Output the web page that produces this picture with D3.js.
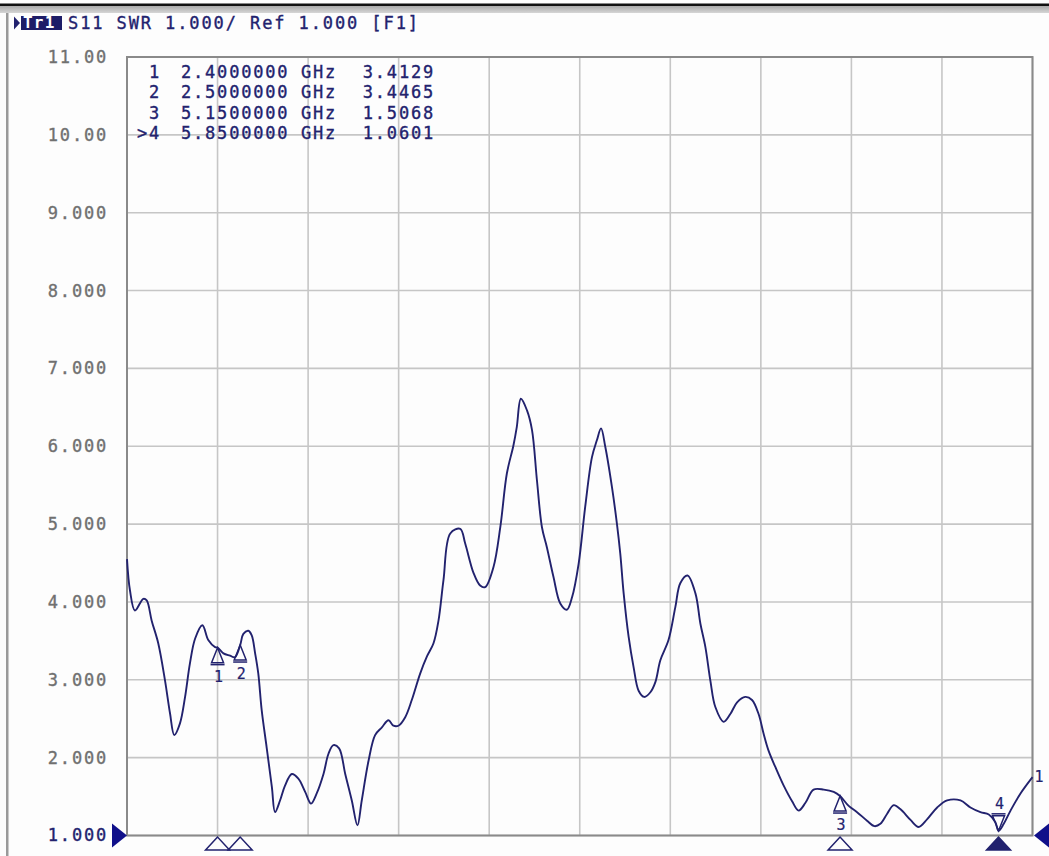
<!DOCTYPE html>
<html>
<head>
<meta charset="utf-8">
<script src="https://cdn.jsdelivr.net/npm/d3@7"></script>
<style>
	html, body { margin: 0; padding: 0; background: #fdfdfd; }
	svg { display: block; }
	text { font-family: "DejaVu Sans Mono", monospace; }
</style>
</head>
<body>
<svg id="chart" width="1049" height="856"></svg>
<script>

// Trace: S11 SWR, frequency in GHz.
let freq = [
	2.000, 2.013, 2.035, 2.072, 2.087, 2.109, 2.138, 2.168, 2.190, 2.209,
	2.234, 2.256, 2.278, 2.301, 2.333, 2.359, 2.389, 2.400, 2.426, 2.455,
	2.477, 2.500, 2.514, 2.536, 2.551, 2.566, 2.580, 2.595, 2.617, 2.640,
	2.654, 2.676, 2.698, 2.728, 2.757, 2.787, 2.813, 2.838, 2.868, 2.890,
	2.912, 2.937, 2.964, 2.993, 3.018, 3.037, 3.067, 3.096, 3.126, 3.155,
	3.177, 3.199, 3.229, 3.258, 3.295, 3.325, 3.354, 3.376, 3.398, 3.428,
	3.472, 3.494, 3.531, 3.560, 3.582, 3.619, 3.649, 3.678, 3.707, 3.722,
	3.740, 3.767, 3.789, 3.811, 3.833, 3.855, 3.884, 3.914, 3.943, 3.966,
	3.995, 4.024, 4.054, 4.076, 4.094, 4.113, 4.142, 4.164, 4.179, 4.194,
	4.216, 4.238, 4.260, 4.285, 4.312, 4.334, 4.356, 4.392, 4.422, 4.444,
	4.476, 4.511, 4.533, 4.555, 4.577, 4.599, 4.636, 4.665, 4.695, 4.731,
	4.761, 4.790, 4.812, 4.834, 4.864, 4.901, 4.938, 4.967, 4.997, 5.033,
	5.078, 5.122, 5.150, 5.188, 5.225, 5.269, 5.302, 5.328, 5.358, 5.387,
	5.416, 5.461, 5.497, 5.535, 5.579, 5.623, 5.682, 5.726, 5.770, 5.807,
	5.836, 5.850, 5.873, 5.903, 5.947, 6.000
];

let swr = [
	4.55, 4.15, 3.89, 4.04, 4.02, 3.76, 3.47, 2.99, 2.57, 2.29,
	2.44, 2.77, 3.21, 3.53, 3.70, 3.51, 3.42, 3.413, 3.34, 3.31,
	3.29, 3.446, 3.59, 3.63, 3.57, 3.34, 3.08, 2.61, 2.13, 1.62,
	1.30, 1.45, 1.64, 1.79, 1.73, 1.56, 1.41, 1.54, 1.79, 2.05,
	2.16, 2.12, 1.79, 1.45, 1.13, 1.45, 1.96, 2.29, 2.39, 2.48,
	2.41, 2.41, 2.52, 2.74, 3.08, 3.30, 3.47, 3.76, 4.28, 4.88,
	4.94, 4.75, 4.37, 4.21, 4.19, 4.45, 4.96, 5.65, 6.01, 6.25,
	6.61, 6.46, 6.21, 5.56, 4.96, 4.70, 4.32, 3.98, 3.90, 4.06,
	4.49, 5.22, 5.86, 6.08, 6.23, 5.99, 5.48, 5.01, 4.62, 4.11,
	3.55, 3.16, 2.86, 2.78, 2.84, 2.97, 3.25, 3.51, 3.93, 4.24,
	4.34, 4.11, 3.72, 3.42, 2.99, 2.65, 2.46, 2.56, 2.71, 2.78,
	2.74, 2.56, 2.31, 2.09, 1.88, 1.64, 1.44, 1.32, 1.42, 1.59,
	1.59, 1.56, 1.507, 1.38, 1.30, 1.19, 1.12, 1.15, 1.28, 1.39,
	1.34, 1.20, 1.11, 1.21, 1.36, 1.45, 1.45, 1.36, 1.30, 1.27,
	1.17, 1.060, 1.15, 1.32, 1.54, 1.75
];

// Markers: number, frequency (GHz), value.
let markerNames = ["1", "2", "3", "4"];
let markerFreq = [2.4, 2.5, 5.15, 5.85];
let markerValue = [3.4129, 3.4465, 1.5068, 1.0601];
let markerFreqText = ["2.4000000", "2.5000000", "5.1500000", "5.8500000"];
let markerValueText = ["3.4129", "3.4465", "1.5068", "1.0601"];
let activeMarker = 3;

// Axis ticks.
let yTicks = [1, 2, 3, 4, 5, 6, 7, 8, 9, 10, 11];
let yLabels = ["1.000", "2.000", "3.000", "4.000", "5.000", "6.000", "7.000", "8.000", "9.000", "10.00", "11.00"];
let xTicks = [2.0, 2.4, 2.8, 3.2, 3.6, 4.0, 4.4, 4.8, 5.2, 5.6, 6.0];

let headerText = "S11 SWR 1.000/ Ref 1.000 [F1]";


let navy = "#22226e";
let svg = d3.select("#chart");

let plot = {left: 127, right: 1032.5, top: 57, bottom: 835.5};

let x = d3.scaleLinear().domain([2, 6]).range([plot.left, plot.right]);
let y = d3.scaleLinear().domain([1, 11]).range([plot.bottom, plot.top]);

// The instrument font is a wide fixed pitch one: thicken the glyphs a little.
function screenText(sel, colour){
	sel.attr("font-family", "'DejaVu Sans Mono', monospace")
	   .attr("font-size", 17)
	   .attr("letter-spacing", 1.8)
	   .attr("fill", colour)
	   .attr("stroke", colour)
	   .attr("stroke-width", 0.35);
	return sel;
} // screenText


// Window frame: black top rule, gray band and the left edge.
svg.append("rect").attr("x", 0).attr("y", 3.5).attr("width", 1049).attr("height", 2.5).attr("fill", "#111");
let grad = svg.append("defs").append("linearGradient")
	.attr("id", "band").attr("x1", 0).attr("x2", 0).attr("y1", 0).attr("y2", 1);
grad.append("stop").attr("offset", "0%").attr("stop-color", "#a9a9a9");
grad.append("stop").attr("offset", "100%").attr("stop-color", "#d6d6d6");
svg.append("rect").attr("x", 0).attr("y", 6).attr("width", 1049).attr("height", 7).attr("fill", "url(#band)");
svg.append("rect").attr("x", 6).attr("y", 13).attr("width", 2.5).attr("height", 843).attr("fill", "#9a9a9a");


// Gridlines.
let grid = svg.append("g").attr("class", "grid")
	.attr("stroke", "#c6c6c6").attr("stroke-width", 1.6);

grid.selectAll("line.v")
	.data(xTicks)
	.join("line")
	.attr("class", "v")
	.attr("x1", d => x(d)).attr("x2", d => x(d))
	.attr("y1", plot.top).attr("y2", plot.bottom);

grid.selectAll("line.h")
	.data(yTicks)
	.join("line")
	.attr("class", "h")
	.attr("x1", plot.left).attr("x2", plot.right)
	.attr("y1", d => y(d)).attr("y2", d => y(d));

// Plot border.
svg.append("rect")
	.attr("x", plot.left).attr("y", plot.top)
	.attr("width", plot.right - plot.left).attr("height", plot.bottom - plot.top)
	.attr("fill", "none").attr("stroke", "#8a8a8a").attr("stroke-width", 2);


// Y axis labels (the reference value at the bottom is drawn in trace colour).
let yAxis = d3.axisLeft(y)
	.tickValues(yTicks)
	.tickFormat((d, i) => yLabels[i])
	.tickSize(0)
	.tickPadding(19);

svg.append("g")
	.attr("transform", `translate(${plot.left},0)`)
	.call(yAxis)
	.call(g => g.select(".domain").remove())
	.call(g => g.selectAll("text").each(function(d){
		screenText(d3.select(this), d === 1 ? navy : "#707070");
	}));


// Header.
let header = svg.append("g").attr("class", "header");
header.append("path").attr("d", "M14,16.5 L20,23 L14,29.5 Z").attr("fill", navy);
header.append("rect").attr("x", 21).attr("y", 16).attr("width", 41).attr("height", 14).attr("fill", "#1d1d68");
header.append("text")
	.attr("x", 23).attr("y", 28)
	.attr("font-size", 16).attr("letter-spacing", 1.2).attr("font-weight", "bold")
	.attr("fill", "#fff")
	.text("Tr1");
screenText(header.append("text"), navy)
	.attr("x", 68).attr("y", 28.5)
	.attr("letter-spacing", 1.9)
	.text(headerText);


// Trace.
let line = d3.line()
	.x((d, i) => x(freq[i]))
	.y(d => y(d))
	.curve(d3.curveCatmullRom.alpha(0.5));

svg.append("path")
	.datum(swr)
	.attr("d", line)
	.attr("fill", "none")
	.attr("stroke", navy)
	.attr("stroke-width", 1.9)
	.attr("stroke-linejoin", "round");

// Trace number at the end of the trace.
screenText(svg.append("text"), navy)
	.attr("x", x(6) + 2).attr("y", y(swr[swr.length - 1]) + 5)
	.attr("font-size", 15).attr("stroke-width", 0.2)
	.text("1");


// Marker table.
let table = svg.append("g").attr("class", "marker-table");
let rowY = d => 77.5 + d * 20.6;

screenText(table.selectAll("text.mname")
	.data(markerNames)
	.join("text")
	.attr("class", "mname")
	.attr("x", 161).attr("y", (d, i) => rowY(i))
	.attr("text-anchor", "end")
	.text((d, i) => (i === activeMarker ? ">" : "") + d), navy);

screenText(table.selectAll("text.mfreq")
	.data(markerFreqText)
	.join("text")
	.attr("class", "mfreq")
	.attr("x", 181).attr("y", (d, i) => rowY(i))
	.text(d => d), navy);

screenText(table.selectAll("text.munit")
	.data(markerFreqText)
	.join("text")
	.attr("class", "munit")
	.attr("x", 301).attr("y", (d, i) => rowY(i))
	.text("GHz"), navy);

screenText(table.selectAll("text.mval")
	.data(markerValueText)
	.join("text")
	.attr("class", "mval")
	.attr("x", 435).attr("y", (d, i) => rowY(i))
	.attr("text-anchor", "end")
	.text(d => d), navy);


// Marker symbols on the trace.
let marks = svg.append("g").attr("class", "markers");

markerNames.forEach((name, i) => {
	let mx = x(markerFreq[i]);
	let my = y(markerValue[i]);
	let dir = i === activeMarker ? -1 : 1;   // active marker hangs above the trace
	let g = marks.append("g");

	g.append("path")
		.attr("d", `M${mx},${my} L${mx - 6},${my + dir * 15} L${mx + 6},${my + dir * 15} Z`)
		.attr("fill", "none").attr("stroke", navy).attr("stroke-width", 1.5);
	g.append("line")
		.attr("x1", mx - 7).attr("x2", mx + 7)
		.attr("y1", my + dir * 17).attr("y2", my + dir * 17)
		.attr("stroke", navy).attr("stroke-width", 1.5);
	screenText(g.append("text"), navy)
		.attr("x", mx + 1).attr("y", dir > 0 ? my + 34 : my - 22)
		.attr("text-anchor", "middle").attr("font-size", 15)
		.attr("letter-spacing", 0).attr("stroke-width", 0.2)
		.text(name);
});

// Marker indicators below the frequency axis.
svg.append("g").attr("class", "marker-ticks")
	.selectAll("path")
	.data(markerFreq)
	.join("path")
	.attr("d", d => `M${x(d)},${plot.bottom + 1.5} L${x(d) - 12},${plot.bottom + 14.5} L${x(d) + 12},${plot.bottom + 14.5} Z`)
	.attr("fill", (d, i) => i === activeMarker ? navy : "none")
	.attr("stroke", navy)
	.attr("stroke-width", 1.5);

// Reference level arrows at both ends.
let refY = y(1);
svg.append("path")
	.attr("d", `M112,${refY - 12} L127,${refY} L112,${refY + 12} Z`)
	.attr("fill", "#10108a");
svg.append("path")
	.attr("d", `M1049,${refY - 12} L1034,${refY} L1049,${refY + 12} Z`)
	.attr("fill", "#10108a");

</script>
</body>
</html>
